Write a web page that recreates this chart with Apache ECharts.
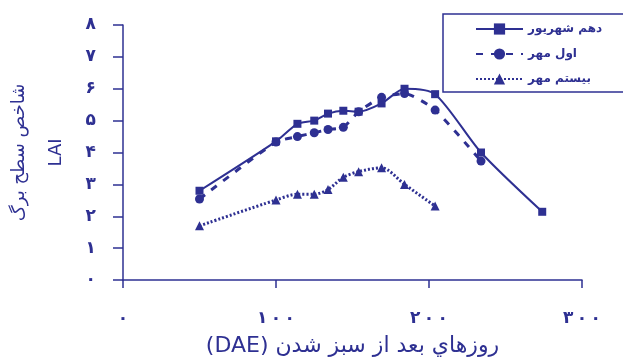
<!DOCTYPE html>
<html>
<head>
<meta charset="utf-8">
<script src="https://cdn.jsdelivr.net/npm/echarts@6/dist/echarts.min.js"></script>
<style>html,body{margin:0;padding:0;background:#fff;}#c{width:623px;height:358px;}</style>
</head>
<body>
<div id="c"></div>
<script>
const seriesNames = ['دهم شهريور', 'اول مهر', 'بيستم مهر'];
const dae1 = [50, 100, 114, 125, 134, 144, 154, 169, 184, 204, 234, 274];
const lai1 = [2.8, 4.35, 4.9, 5.0, 5.22, 5.31, 5.28, 5.54, 6.0, 5.83, 4.0, 2.14];
const dae2 = [50, 100, 114, 125, 134, 144, 154, 169, 184, 204, 234];
const lai2 = [2.54, 4.33, 4.5, 4.62, 4.72, 4.79, 5.28, 5.73, 5.85, 5.33, 3.73];
const dae3 = [50, 100, 114, 125, 134, 144, 154, 169, 184, 204];
const lai3 = [1.7, 2.51, 2.69, 2.69, 2.84, 3.22, 3.4, 3.52, 3.0, 2.32];
const xTickLabels = ['۰', '۱۰۰', '۲۰۰', '۳۰۰'];
const yTickLabels = ['۰', '۱', '۲', '۳', '۴', '۵', '۶', '۷', '۸'];
const xTitle = '(DAE) روزهاي بعد از سبز شدن';
const yTitle = 'شاخص سطح برگ\nLAI';

const C = '#2e3092';
const pair = (xs, ys) => xs.map((x, i) => [x, ys[i]]);
const spaced = s => s.split('').join('\u2009');

const chart = echarts.init(document.getElementById('c'), null, {renderer: 'canvas'});
chart.setOption({
  backgroundColor: '#fff',
  animation: false,
  grid: {left: 123, right: 41, top: 25, bottom: 78, outerBoundsMode: 'none', containLabel: false},
  legend: {
    left: 443, top: 14,
    orient: 'vertical',
    padding: [9, 30, 7, 32],
    itemGap: 13,
    itemWidth: 47, itemHeight: 14,
    borderColor: C, borderWidth: 1.5,
    textStyle: {color: C, fontFamily: 'DejaVu Sans', fontWeight: 'bold', fontSize: 12},
    data: seriesNames
  },
  xAxis: {
    type: 'value', min: 0, max: 300, interval: 100,
    splitLine: {show: false},
    axisLine: {lineStyle: {color: C, width: 1.5}},
    axisTick: {show: true, inside: false, length: 8, lineStyle: {color: C, width: 1.5}},
    axisLabel: {margin: 30, color: C, fontFamily: 'DejaVu Sans', fontWeight: 'bold', fontSize: 17,
      formatter: v => spaced(xTickLabels[Math.round(v / 100)])},
    name: xTitle, nameLocation: 'middle', nameGap: 55,
    nameTextStyle: {color: C, fontFamily: 'DejaVu Sans', fontSize: 22}
  },
  yAxis: {
    type: 'value', min: 0, max: 8, interval: 1,
    splitLine: {show: false},
    axisLine: {show: true, lineStyle: {color: C, width: 1.5}},
    axisTick: {show: true, length: 10, lineStyle: {color: C, width: 1.5}},
    axisLabel: {margin: 27, color: C, fontFamily: 'DejaVu Sans', fontWeight: 'bold', fontSize: 17,
      formatter: v => yTickLabels[Math.round(v)]},
    name: yTitle, nameLocation: 'middle', nameGap: 48, nameRotate: 90,
    nameTextStyle: {color: C, fontFamily: 'DejaVu Sans', fontSize: 18, lineHeight: 37}
  },
  series: [
    {name: seriesNames[0], type: 'line', data: pair(dae1, lai1), smooth: 0.25,
      symbol: 'rect', symbolSize: 8, itemStyle: {color: C},
      lineStyle: {color: C, width: 2, type: 'solid'}},
    {name: seriesNames[1], type: 'line', data: pair(dae2, lai2), smooth: 0.2,
      symbol: 'circle', symbolSize: 9, itemStyle: {color: C},
      lineStyle: {color: C, width: 3, type: [7, 8]}},
    {name: seriesNames[2], type: 'line', data: pair(dae3, lai3), smooth: 0.3,
      symbol: 'triangle', symbolSize: 9, itemStyle: {color: C},
      lineStyle: {color: C, width: 3, type: [2, 2]}}
  ]
});
</script>
</body>
</html>
